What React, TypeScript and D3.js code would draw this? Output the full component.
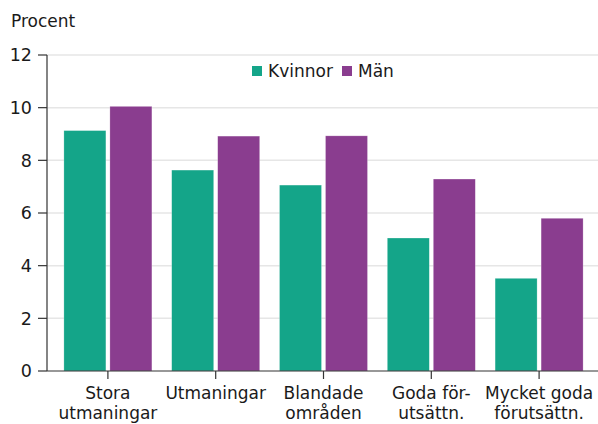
import * as d3 from "d3";

const categories = [
  ["Stora", "utmaningar"],
  ["Utmaningar"],
  ["Blandade", "områden"],
  ["Goda för-", "utsättn."],
  ["Mycket goda", "förutsättn."],
];
const kvinnor = [9.13, 7.63, 7.06, 5.05, 3.52];
const man = [10.05, 8.92, 8.93, 7.29, 5.8];
const series = [
  { name: "Kvinnor", values: kvinnor, color: "#14a589" },
  { name: "Män", values: man, color: "#8a3d8f" },
];
const yTicks = [0, 2, 4, 6, 8, 10, 12];

const W = 598;
const H = 424;
const FONT = "DejaVu Sans, Verdana, sans-serif";

export default function App() {
  const axisX = 47;
  const x = d3
    .scaleBand<number>()
    .domain(d3.range(categories.length))
    .range([54, 593]);
  const y = d3.scaleLinear().domain([0, 12]).range([371, 55]);
  const barW = 42;
  const gap = 4;

  return (
    <svg
      width={W}
      height={H}
      style={{ position: "absolute", left: 0, top: 0, fontFamily: FONT }}
    >
      <text x={11} y={27} fontSize={17} fill="#1a1a1a">
        Procent
      </text>

      {/* gridlines */}
      {yTicks.slice(1).map((t) => (
        <line
          key={t}
          x1={axisX}
          x2={W}
          y1={y(t)}
          y2={y(t)}
          stroke="#e6e6e6"
          strokeWidth={1.5}
        />
      ))}

      {/* bars */}
      {series.map((s, si) =>
        s.values.map((v, i) => {
          const cx = x(i)! + x.bandwidth() / 2;
          const bx = si === 0 ? cx - gap / 2 - barW : cx + gap / 2;
          return (
            <rect
              key={s.name + i}
              x={bx}
              y={y(v)}
              width={barW}
              height={y(0) - y(v)}
              fill={s.color}
              stroke="#ffffff"
              strokeOpacity={0.4}
              strokeWidth={0.6}
            />
          );
        })
      )}

      {/* y axis */}
      <line x1={axisX} x2={axisX} y1={y(12)} y2={y(0)} stroke="#333" strokeWidth={1.2} />
      {yTicks.map((t) => (
        <g key={t}>
          <line x1={38} x2={axisX} y1={y(t)} y2={y(t)} stroke="#333" strokeWidth={1.2} />
          <text
            x={32}
            y={y(t)}
            dy="0.36em"
            textAnchor="end"
            fontSize={17.5}
            fill="#1a1a1a"
          >
            {t}
          </text>
        </g>
      ))}

      {/* x axis */}
      <line x1={axisX} x2={W} y1={y(0)} y2={y(0)} stroke="#333" strokeWidth={1.2} />
      {categories.map((lines, i) => {
        const cx = x(i)! + x.bandwidth() / 2;
        return (
          <g key={i}>
            <line x1={cx} x2={cx} y1={y(0)} y2={y(0) + 8} stroke="#333" strokeWidth={1.2} />
            {lines.map((l, li) => (
              <text
                key={li}
                x={cx}
                y={399 + li * 20}
                textAnchor="middle"
                fontSize={17}
                fill="#1a1a1a"
              >
                {l}
              </text>
            ))}
          </g>
        );
      })}

      {/* legend */}
      {series.map((s, si) => {
        const lx = si === 0 ? 252 : 342;
        return (
          <g key={s.name}>
            <rect x={lx} y={66} width={10} height={10} fill={s.color} />
            <text x={lx + 16} y={77} fontSize={17} fill="#1a1a1a">
              {s.name}
            </text>
          </g>
        );
      })}
    </svg>
  );
}
